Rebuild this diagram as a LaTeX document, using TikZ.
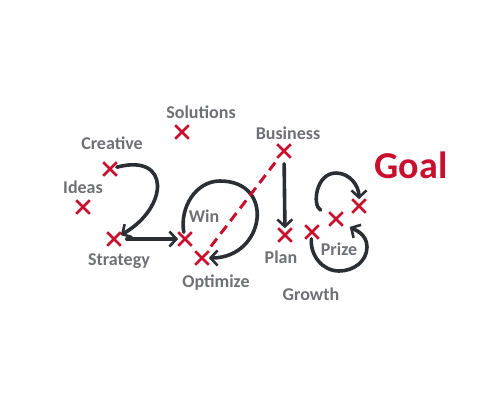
\documentclass[tikz,border=0pt]{standalone}
\usepackage{fontspec}
\setmainfont{Carlito}
\usetikzlibrary{arrows.meta}
\usetikzlibrary{shapes.misc}
\definecolor{inkgrey}{HTML}{2B2E33}
\definecolor{labelgrey}{HTML}{6F7075}
\definecolor{goalred}{HTML}{C8102E}

\begin{document}
\begin{tikzpicture}[x=0.5pt, y=0.5pt,
    xmark/.style={cross out, draw=goalred, line width=1.3pt, minimum size=5.5pt, inner sep=0pt},
    lbl/.style={text=labelgrey, font=\fontsize{9}{10}\selectfont\bfseries, anchor=base},
    move/.style={draw=inkgrey, line width=1.8pt, line cap=round,
        -{Straight Barb[length=3.5pt, width=7.5pt, line width=1.3pt]}},
    ]
    \useasboundingbox (0,0) rectangle (500,-404);
    % crosses
    \foreach \n/\x/\y in {sol/182/132, cre/110/169, ide/83/207, str/114/239, win/185/239,
        opt/202/258, bus/284/151, pla/285/235, gro/312/232, pri/336/219, goa/359/206} {
        \node[xmark] (x\n) at (\x,-\y) {};
    }
    % labels
    \foreach \t/\x/\y in {Solutions/201/118, Creative/112/149, Ideas/83/193, Strategy/119/265,
        Win/204/222, Optimize/216/287, Business/288/139, Plan/281/263, Growth/311/300, Prize/339/255} {
        \node[lbl] (l\t) at (\x,-\y) {\t};
    }
    \node[text=goalred, font=\fontsize{19}{22}\selectfont\bfseries, anchor=base] (lGoal) at (411,-178) {Goal};

    % the 2
    \draw[move] (xcre) to[out=15, in=30, looseness=2.1] (xstr);
    \draw[move, shorten <=3pt] (xstr) -- (xwin);
    % the 0 and the 1
    \coordinate (zerotop) at (220,-181);
    \draw[move] (xwin) to[out=100, in=180] (zerotop) to[out=0, in=0, looseness=1.85] (xopt);
    \draw[goalred, line width=1.5pt, dash pattern=on 5pt off 3pt, shorten <=3pt, shorten >=3pt] (xopt) -- (xbus);
    \draw[move, shorten <=3pt] (xbus) -- (xpla);
    % the 8
    \coordinate (eighttop) at (336,-173);
    \coordinate (eightbot) at (339,-271);
    \coordinate (eightright) at (367,-247);
    \draw[move, shorten <=5pt] (xpri) to[out=150, in=180, looseness=1.2] (eighttop) to[out=0, in=90] (xgoa);
    \draw[move, shorten >=4pt] (xgro) to[out=265, in=180] (eightbot) to[out=0, in=270] (eightright)
        to[out=90, in=-30] (xpri);
\end{tikzpicture}
\end{document}
